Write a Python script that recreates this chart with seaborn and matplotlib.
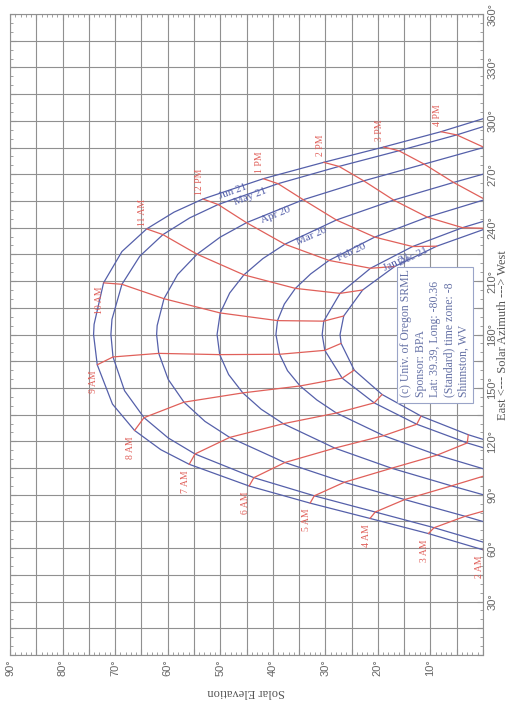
import matplotlib
matplotlib.use("Agg")
import matplotlib.pyplot as plt
import matplotlib.patches as mpatches
import seaborn as sns
import pandas as pd
from matplotlib.ticker import MultipleLocator, FuncFormatter

# sun path dates (blue curves)
dates = ["Jun 21", "May 21", "Apr 20", "Mar 20", "Feb 20", "Jan 21", "Dec 21"]

# clock time (h), solar azimuth (deg) and solar elevation (deg) along each date curve
jun_t = [1, 2, 3, 4, 5, 6, 7, 7.5, 8, 8.5, 9, 9.4, 9.5, 10, 10.5, 11, 11.5, 12, 13, 14, 15, 16, 17]
jun_az = [49.0, 59.1, 68.2, 76.7, 85.3, 94.9, 107.1, 115.3, 126.1, 140.9, 163.0, 180.0, 185.7, 209.0,
          226.6, 239.3, 248.7, 256.1, 267.5, 276.7, 285.3, 293.9, 303.2]
jun_el = [-9.3, 0.0, 10.4, 21.5, 32.9, 44.5, 55.9, 61.3, 66.3, 70.5, 73.4, 74.1, 74.0, 72.2,
          68.7, 64.0, 58.8, 53.3, 41.8, 30.3, 18.9, 8.0, -2.2]

may_t = [1, 2, 3, 4, 5, 6, 7, 7.5, 8, 8.5, 9, 9.3, 9.5, 10, 10.5, 11, 11.5, 12, 13, 14, 15, 16, 17]
may_az = [52.1, 62.3, 71.5, 80.3, 89.4, 99.6, 112.9, 121.9, 133.3, 148.4, 167.4, 180.0, 188.5, 208.2,
          224.0, 236.1, 245.5, 253.0, 264.7, 274.4, 283.2, 292.1, 301.7]
may_el = [-11.1, -1.3, 9.3, 20.5, 32.1, 43.6, 54.8, 59.9, 64.5, 68.2, 70.4, 70.8, 70.6, 68.7,
          65.3, 60.9, 55.8, 50.4, 39.0, 27.4, 16.0, 5.0, -5.4]

apr_t = [2, 3, 4, 5, 6, 7, 7.5, 8, 8.5, 9, 9.34, 9.5, 10, 10.5, 11, 11.5, 12, 13, 14, 15, 16, 17]
apr_az = [68.3, 77.9, 87.3, 97.0, 108.1, 122.2, 131.2, 142.0, 154.8, 169.4, 180.0, 185.0, 200.1,
          213.7, 225.1, 234.7, 242.8, 255.7, 266.3, 275.7, 285.1, 295.0]
apr_el = [-7.7, 3.4, 14.9, 26.4, 37.7, 48.2, 52.9, 56.9, 59.9, 61.7, 62.1, 62.0, 60.7,
          58.1, 54.4, 50.0, 45.0, 34.2, 22.7, 11.2, -0.2, -11.1]

mar_t = [2, 3, 4, 5, 6, 7, 7.5, 8, 8.5, 9, 9.5, 10, 10.5, 11, 11.5, 12, 13, 14, 15, 16]
mar_az = [75.5, 85.4, 95.0, 104.9, 116.2, 129.9, 138.0, 147.2, 157.5, 168.7, 180.0, 192.1, 203.3,
          213.5, 222.6, 230.7, 244.3, 255.5, 265.4, 275.0]
mar_el = [-17.0, -5.6, 6.0, 17.4, 28.2, 38.0, 42.2, 45.7, 48.4, 50.1, 50.6, 50.0, 48.2,
          45.5, 41.9, 37.7, 27.9, 17.0, 5.6, -6.0]

feb_t = [3, 4, 5, 6, 7, 7.5, 8, 8.5, 9, 9.6, 10, 10.5, 11, 11.5, 12, 13, 14, 15, 16]
feb_az = [93.2, 102.5, 112.3, 123.2, 135.9, 143.2, 151.1, 159.7, 168.9, 180.0, 187.8, 197.1,
          205.9, 214.0, 221.6, 234.7, 245.9, 255.8, 265.1]
feb_el = [-13.9, -2.4, 8.7, 18.9, 27.9, 31.6, 34.8, 37.2, 38.7, 39.4, 39.1, 37.8,
          35.7, 32.8, 29.3, 20.6, 10.6, -0.4, -11.8]

jan_t = [4, 5, 6, 7, 8, 9, 9.54, 10, 11, 12, 13, 14, 15]
jan_az = [109.8, 119.1, 129.6, 141.6, 155.5, 171.1, 180.0, 187.5, 203.1, 217.2, 229.4, 240.0, 249.4]
jan_el = [-7.5, 3.0, 12.6, 20.7, 26.8, 30.1, 30.6, 30.3, 27.2, 21.4, 13.4, 3.9, -6.6]

dec_t = [4, 5, 6, 7, 8, 9, 9.33, 10, 11, 12, 13, 14, 15]
dec_az = [114.4, 123.7, 134.2, 146.3, 160.0, 175.0, 180.0, 190.4, 205.0, 218.2, 229.6, 239.6, 248.7]
dec_el = [-7.3, 2.8, 11.8, 19.2, 24.5, 27.0, 27.2, 26.5, 22.9, 16.8, 8.8, -0.7, -11.1]

# hour lines (red) and their labels
hour_clock = [2, 3, 4, 5, 6, 7, 8, 9, 10, 11, 12, 13, 14, 15, 16]
hour_names = ["2 AM", "3 AM", "4 AM", "5 AM", "6 AM", "7 AM", "8 AM", "9 AM", "10 AM",
              "11 AM", "12 PM", "1 PM", "2 PM", "3 PM", "4 PM"]

info_lines = ["(c) Univ. of Oregon SRML", "Sponsor: BPA", "Lat: 39.39, Long: -80.36",
              "(Standard) time zone: -8", "Shinnston, WV"]

series = [(jun_t, jun_az, jun_el), (may_t, may_az, may_el), (apr_t, apr_az, apr_el),
          (mar_t, mar_az, mar_el), (feb_t, feb_az, feb_el), (jan_t, jan_az, jan_el),
          (dec_t, dec_az, dec_el)]

rows = []
for d, (t, az, el) in zip(dates, series):
    for ti, a, e in zip(t, az, el):
        rows.append({"date": d, "t": ti, "az": a, "el": e})
df = pd.DataFrame(rows)
hourly = df[df["t"].isin(hour_clock)]

BLUE = "#5560aa"
RED = "#e0605a"
GRID = "#909090"
SERIF = ["Liberation Serif", "DejaVu Serif"]

sns.set_style("white")
plt.rcParams["font.family"] = ["Liberation Sans", "DejaVu Sans"]

fig = plt.figure(figsize=(5.14, 7.08), dpi=100)
ax = fig.add_axes([10 / 514, 1 - 655 / 708, 473 / 514, 641 / 708])

# sun path curves (axes are swapped: elevation across, azimuth up)
sns.lineplot(data=df, x="el", y="az", units="date", estimator=None, sort=False,
             color=BLUE, lw=0.9, ax=ax)
# hour lines
sns.lineplot(data=hourly, x="el", y="az", units="t", estimator=None, sort=False,
             color=RED, lw=0.9, ax=ax)

ax.set_xlim(90, 0)
ax.set_ylim(0, 360)
ax.set_xlabel("")
ax.set_ylabel("")

ax.xaxis.set_major_locator(MultipleLocator(5))
ax.xaxis.set_minor_locator(MultipleLocator(1))
ax.yaxis.set_major_locator(MultipleLocator(15))
ax.yaxis.set_minor_locator(MultipleLocator(5))
ax.xaxis.set_major_formatter(FuncFormatter(lambda v, p: f"{int(round(v))}°" if round(v) % 10 == 0 and v > 0 else ""))
ax.yaxis.set_major_formatter(FuncFormatter(lambda v, p: f"{int(round(v))}°" if round(v) % 30 == 0 and v > 0 else ""))
ax.grid(True, which="major", color=GRID, lw=0.8)
ax.set_axisbelow(True)

ax.tick_params(axis="both", which="both", direction="in", color=GRID,
               top=True, bottom=True, left=True, right=True)
ax.tick_params(axis="both", which="major", length=4, width=0.8)
ax.tick_params(axis="both", which="minor", length=2.5, width=0.6)
ax.tick_params(axis="x", labelrotation=90, labelsize=8, labelcolor="#666666", pad=3)
ax.tick_params(axis="y", labelleft=False, labelright=True, labelrotation=90,
               labelsize=8, labelcolor="#666666", pad=3)
for lab in ax.get_yticklabels():
    lab.set_verticalalignment("center")
for s in ax.spines.values():
    s.set_color(GRID)
    s.set_linewidth(0.8)

# hour labels next to the June end of each hour line
jun_lookup = dict(zip(jun_t, zip(jun_az, jun_el)))
for h, name in zip(hour_clock, hour_names):
    a, e = jun_lookup[h]
    da = -9.5 if h <= 10 else 9.5
    ax.text(e + 0.7, a + da, name, rotation=90, ha="center", va="center",
            fontsize=7, color=RED, family=SERIF)

# date labels along the curves
date_label_pos = [(47.6, 260.0, 20), (44.3, 257.2, 21), (39.4, 247.1, 22), (32.5, 235.3, 24),
                  (24.9, 226.3, 25), (16.4, 220.7, 26), (13.3, 223.5, 26)]
for d, (e, a, r) in zip(dates, date_label_pos):
    ax.text(e, a, d, rotation=r, rotation_mode="anchor", ha="center", va="center",
            fontsize=8, color=BLUE, family=SERIF)

# info box
ax.add_patch(mpatches.Rectangle((1.9, 141.5), 14.46, 76.4, fc="white", ec="#9aa4c8",
                                lw=0.8, zorder=4))
ax.text(15.7, 145.0, "\n".join(info_lines), rotation=90, ha="left", va="bottom",
        multialignment="left", fontsize=8.5, color="#6672a6", family=SERIF,
        linespacing=1.25, zorder=5)

fig.text(246 / 514, 1 - 692 / 708, "Solar Elevation", rotation=180, ha="center", va="center",
         fontsize=9, color="#555555", family=SERIF)
fig.text(503 / 514, 1 - 335 / 708, "East <--- Solar Azimuth ---> West", rotation=90,
         ha="center", va="center", fontsize=9, color="#555555", family=SERIF)

fig.savefig("out.png", dpi=100)
